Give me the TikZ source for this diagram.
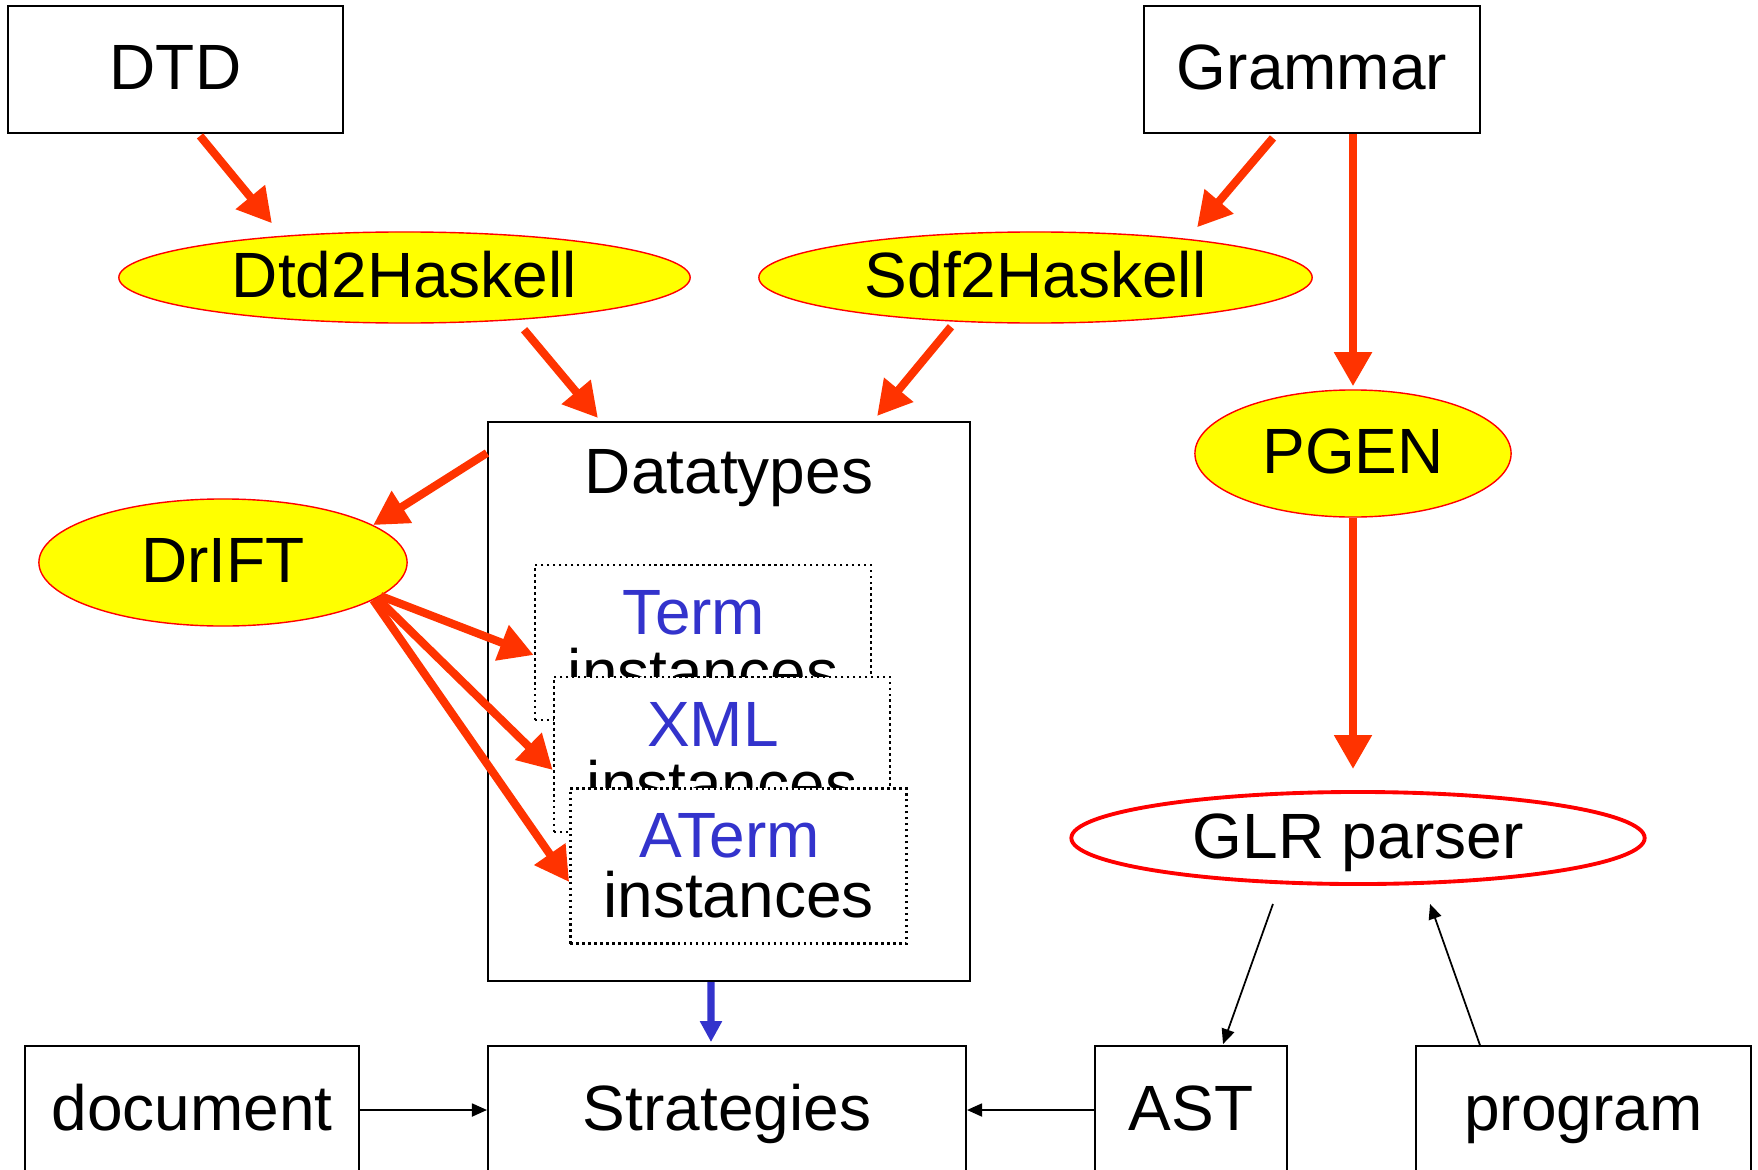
\documentclass[tikz,border=0pt]{standalone}
\usepackage{fontspec}
\setmainfont{Liberation Sans}
\usetikzlibrary{arrows.meta, shapes.geometric}
\definecolor{flowred}{HTML}{FF3300}
\definecolor{toolfill}{HTML}{FFFF00}
\definecolor{toolborder}{HTML}{FF0000}
\definecolor{instblue}{HTML}{3333CC}
\definecolor{darkline}{HTML}{000000}
\newcommand{\diagfont}{\fontsize{18.2pt}{17.1pt}\selectfont}
\newcommand{\kind}[1]{\textcolor{instblue}{#1}\hspace*{0.178cm}}
\tikzset{
  card/.style={
    rectangle,
    draw=darkline,
    line width=0.5pt,
    fill=white,
    inner sep=0pt,
    font=\diagfont,
    text height=0.5cm,
    text depth=0.1cm
  },
  tool/.style={ellipse, fill=toolfill, draw=toolborder, line width=0.4pt, inner sep=0pt, font=\diagfont, text height=0.5cm, text depth=0.1cm},
  parser/.style={tool, fill=white, line width=1.1pt},
  inst/.style={rectangle, draw=darkline, densely dotted, line width=0.7pt, fill=white, align=center, inner sep=0pt, font=\diagfont, minimum width=3.36cm, minimum height=1.55cm},
  heading/.style={font=\diagfont, text height=0.5cm, text depth=0.1cm},
  flow/.style={-{Triangle[length=3.4mm, width=3.6mm]}, line width=2.3pt, draw=flowred},
  typeflow/.style={-{Triangle[length=2.1mm, width=2.1mm]}, line width=2pt, draw=instblue},
  link/.style={-{Triangle[length=1.5mm, width=1.3mm]}, line width=0.5pt, draw=darkline}
}
\begin{document}
\begin{tikzpicture}[x=0.01cm, y=-0.01cm]
\useasboundingbox (0,0) rectangle (1758,1170);
\clip (0,0) rectangle (1758,1170);

% Sources.
\node[card, minimum width=3.35cm, minimum height=1.27cm] (dtd) at (175.5,69.5) {DTD};
\node[card, minimum width=3.36cm, minimum height=1.27cm] (grammar) at (1312,69.5) {Grammar};

% Generators.
\node[tool, minimum width=5.71cm, minimum height=0.91cm] (dtdhs) at (404.5,277.5) {Dtd2Haskell};
\node[tool, minimum width=5.53cm, minimum height=0.91cm] (sdfhs) at (1035.5,277.5) {Sdf2Haskell};
\node[tool, minimum width=3.16cm, minimum height=1.27cm] (pgen) at (1353,453.5) {PGEN};
\node[tool, minimum width=3.68cm, minimum height=1.27cm] (drift) at (223,562.5) {DrIFT};
\node[parser, minimum width=5.73cm, minimum height=0.92cm] (glr) at (1358,838) {GLR parser};

% Datatypes and derived instances.
\node[card, minimum width=4.82cm, minimum height=5.59cm] (datatypes) at (729,701.5) {};
\node[heading] (dttitle) at (729,473) {Datatypes};
\node[inst] (term) at (703,642.5) {\kind{Term}\\instances};
\node[inst] (xml) at (722,754.5) {\kind{XML}\\instances};
\node[inst] (aterm) at (738.5,866) {\kind{ATerm}\\instances};

% Bottom row.
\node[card, minimum width=3.34cm, minimum height=1.28cm] (document) at (192,1110) {document};
\node[card, minimum width=4.78cm, minimum height=1.28cm] (strategies) at (727,1110) {Strategies};
\node[card, minimum width=1.92cm, minimum height=1.28cm] (ast) at (1191,1110) {AST};
\node[card, minimum width=3.35cm, minimum height=1.28cm] (program) at (1583.5,1110) {program};

% Generation flow.
\draw[flow] ([xshift=0.245cm, yshift=-0.02cm]dtd.south) -- ([xshift=-1.325cm, yshift=0.08cm]dtdhs.north);
\draw[flow] ([xshift=-0.39cm, yshift=-0.04cm]grammar.south) -- ([xshift=1.615cm, yshift=0.04cm]sdfhs.north);
\draw[flow, shorten >=0.03cm] (grammar.south -| pgen.north) -- (pgen.north);
\draw[flow] ([xshift=1.195cm, yshift=-0.06cm]dtdhs.south) -- ([xshift=-1.31cm, yshift=0.03cm]datatypes.north);
\draw[flow] ([xshift=-0.845cm, yshift=-0.03cm]sdfhs.south) -- ([xshift=1.48cm, yshift=0.05cm]datatypes.north);
\draw[flow, shorten >=0.21cm] (pgen.south) -- (pgen.south |- glr.north);

% DrIFT.
\draw[flow] ([yshift=-0.32cm]datatypes.north west) -- (drift.14);
\draw[flow] (drift.-12) -- ([yshift=-0.125cm]term.west);
\draw[flow] (drift.-13) -- ([yshift=-0.155cm]xml.west);
\draw[flow] (drift.-14) -- ([yshift=-0.16cm]aterm.west);

% Strategies.
\draw[typeflow] ([xshift=-0.18cm]datatypes.south) -- ([xshift=-0.16cm, yshift=0.03cm]strategies.north);
\draw[link] (document) -- (strategies);
\draw[link] (ast) -- (strategies);
\draw[link] ([xshift=-0.85cm, yshift=-0.18cm]glr.south) -- ([xshift=0.32cm, yshift=0.01cm]ast.north);
\draw[link] ([xshift=-1.035cm]program.north) -- ([xshift=0.72cm, yshift=-0.18cm]glr.south);

\end{tikzpicture}
\end{document}
